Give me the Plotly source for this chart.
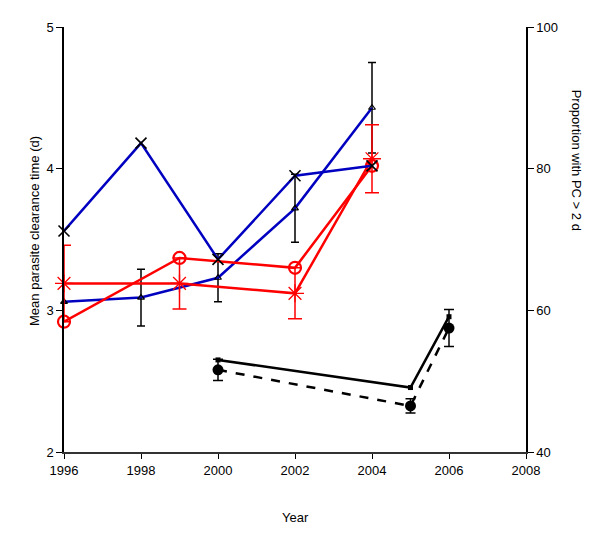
import plotly.graph_objects as go

# Left axis series (mean parasite clearance time, d)
bx_years = [1996, 1998, 2000, 2002, 2004]
bx_vals = [3.56, 4.18, 3.36, 3.95, 4.02]

bt_years = [1996, 1998, 2000, 2002, 2004]
bt_vals = [3.06, 3.09, 3.23, 3.72, 4.43]
bt_err = [0.0, 0.20, 0.17, 0.24, 0.32]

rc_years = [1996, 1999, 2002, 2004]
rc_vals = [2.92, 3.37, 3.30, 4.02]

ra_years = [1996, 1999, 2002, 2004]
ra_vals = [3.19, 3.19, 3.12, 4.07]
ra_err = [0.27, 0.18, 0.18, 0.24]

# Right axis series (proportion with PC > 2 d)
ks_years = [2000, 2005, 2006]
ks_vals = [53.0, 49.1, 59.1]

kd_years = [2000, 2005, 2006]
kd_vals = [51.6, 46.5, 57.5]
kd_err = [1.5, 1.0, 2.6]

x_ticks = [1996, 1998, 2000, 2002, 2004, 2006, 2008]
yl_ticks = [2, 3, 4, 5]
yr_ticks = [40, 60, 80, 100]

BLUE = "#0000c0"
RED = "#ff0000"
FONT = "Liberation Sans, Arial, sans-serif"

fig = go.Figure()

fig.add_trace(go.Scatter(
    x=bt_years, y=bt_vals, mode="lines+markers", cliponaxis=False,
    line=dict(color=BLUE, width=2.5),
    marker=dict(symbol="triangle-up-open", size=6, color="black", line=dict(width=1.2, color="black")),
    error_y=dict(type="data", array=bt_err, visible=True, color="black", thickness=1.5, width=4),
))
fig.add_trace(go.Scatter(
    x=rc_years, y=rc_vals, mode="lines+markers", cliponaxis=False,
    line=dict(color=RED, width=2.5),
    marker=dict(symbol="circle-open", size=12, color=RED, line=dict(width=2.2, color=RED)),
))
fig.add_trace(go.Scatter(
    x=ra_years, y=ra_vals, mode="lines+markers", cliponaxis=False,
    line=dict(color=RED, width=2.5),
    marker=dict(symbol="asterisk-open", size=15, color=RED, line=dict(width=1.3, color=RED)),
    error_y=dict(type="data", array=ra_err, visible=True, color=RED, thickness=1.5, width=7),
))
fig.add_trace(go.Scatter(
    x=bx_years, y=bx_vals, mode="lines+markers", cliponaxis=False,
    line=dict(color=BLUE, width=2.5),
    marker=dict(symbol="x-thin-open", size=11, color="black", line=dict(width=1.6, color="black")),
))

fig.add_trace(go.Scatter(
    x=ks_years, y=ks_vals, mode="lines+markers", yaxis="y2", cliponaxis=False,
    line=dict(color="black", width=2.5),
    marker=dict(symbol="square", size=5, color="black"),
))
fig.add_trace(go.Scatter(
    x=kd_years, y=kd_vals, mode="lines+markers", yaxis="y2", cliponaxis=False,
    line=dict(color="black", width=2.5, dash="dash"),
    marker=dict(symbol="circle", size=11, color="black"),
    error_y=dict(type="data", array=kd_err, visible=True, color="black", thickness=1.5, width=5),
))

fig.update_layout(
    width=584, height=519,
    margin=dict(l=56, r=66, t=14, b=75),
    paper_bgcolor="white", plot_bgcolor="white",
    showlegend=False,
    font=dict(family=FONT, size=13, color="black"),
    xaxis=dict(
        range=[1996, 2008], tickvals=x_ticks, ticktext=[str(t) for t in x_ticks],
        showgrid=False, zeroline=False, showline=True, linecolor="#333333", linewidth=2,
        ticks="outside", ticklen=5, tickcolor="black", tickwidth=1,
    ),
    yaxis=dict(
        range=[2, 5], tickvals=yl_ticks, showgrid=False, zeroline=False,
        showline=True, linecolor="black", linewidth=1.5,
        ticks="outside", ticklen=6, tickcolor="black", tickwidth=1,
    ),
    yaxis2=dict(
        range=[40, 100], tickvals=yr_ticks, overlaying="y", side="right",
        showgrid=False, zeroline=False, showline=True, linecolor="black", linewidth=1.5,
        ticks="outside", ticklen=6, tickcolor="black", tickwidth=1,
    ),
    annotations=[
        dict(text="Year", x=0.5, y=-0.153, xref="paper", yref="paper",
             xanchor="center", yanchor="middle", showarrow=False, font=dict(size=13)),
        dict(text="Mean parasite clearance time (d)", x=-0.065, y=0.52, xref="paper", yref="paper",
             xanchor="center", yanchor="middle", textangle=-90, showarrow=False, font=dict(size=13)),
        dict(text="Proportion with PC > 2 d", x=1.11, y=0.686, xref="paper", yref="paper",
             xanchor="center", yanchor="middle", textangle=90, showarrow=False, font=dict(size=13)),
    ],
)

fig.write_html("out.html")
